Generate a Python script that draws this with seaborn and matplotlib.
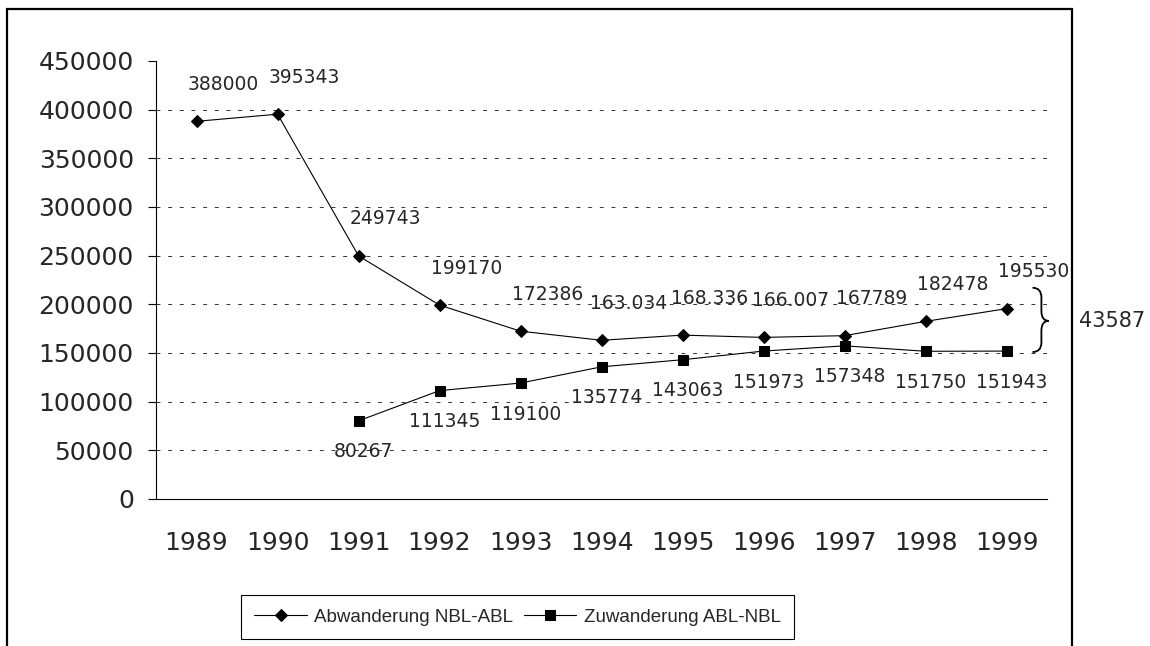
import numpy as np
import pandas as pd
import matplotlib
matplotlib.use('Agg')
import matplotlib.pyplot as plt
from matplotlib.path import Path
from matplotlib.patches import PathPatch, Rectangle
import seaborn as sns

years = ['1989', '1990', '1991', '1992', '1993', '1994', '1995', '1996', '1997', '1998', '1999']
abwanderung = [388000, 395343, 249743, 199170, 172386, 163034, 168336, 166007, 167789, 182478, 195530]
abw_labels = ['388000', '395343', '249743', '199170', '172386', '163.034', '168.336', '166.007', '167789', '182478', '195530']
zuwanderung = [np.nan, np.nan, 80267, 111345, 119100, 135774, 143063, 151973, 157348, 151750, 151943]
zuw_labels = ['', '', '80267', '111345', '119100', '135774', '143063', '151973', '157348', '151750', '151943']
name_abw = 'Abwanderung NBL-ABL'
name_zuw = 'Zuwanderung ABL-NBL'

sns.set_style('white')
plt.rcParams['font.family'] = ['DejaVu Sans']

df = pd.DataFrame({'pos': np.arange(len(years)), 'abw': abwanderung, 'zuw': zuwanderung})

fig = plt.figure(figsize=(11.5, 6.46), dpi=100)
ax = fig.add_axes([0.1357, 0.2276, 0.7748, 0.678])

sns.lineplot(data=df, x='pos', y='abw', marker='D', markersize=6.5, color='black',
             linewidth=0.8, markeredgecolor='black', ax=ax, label=name_abw)
sns.lineplot(data=df.dropna(), x='pos', y='zuw', marker='s', markersize=7.5, color='black',
             linewidth=0.8, markeredgecolor='black', ax=ax, label=name_zuw)

for i, v in enumerate(abwanderung):
    ax.annotate(abw_labels[i], (i, v), xytext=(27, 37), textcoords='offset pixels',
                ha='center', va='center', fontsize=13.5)
for i, v in enumerate(zuwanderung):
    if zuw_labels[i]:
        ax.annotate(zuw_labels[i], (i, v), xytext=(5, -31), textcoords='offset pixels',
                    ha='center', va='center', fontsize=13.5)

ax.set_xlim(-0.5, len(years) - 0.5)
ax.set_ylim(0, 450000)
ax.set_yticks(np.arange(0, 450001, 50000))
ax.set_yticklabels([str(int(t)) for t in np.arange(0, 450001, 50000)], fontsize=18)
ax.set_xticks(np.arange(len(years)))
ax.set_xticklabels(years, fontsize=18)
ax.set_xticks(np.arange(len(years) + 1) - 0.5, minor=True)
ax.tick_params(axis='x', which='major', length=0, pad=23)
ax.tick_params(axis='x', which='minor', length=6, width=0.8, direction='out', color='black')
ax.tick_params(axis='y', length=6, width=0.8, direction='out', color='black', pad=10, left=True)
ax.set_xlabel('')
ax.set_ylabel('')

for s in ['top', 'right']:
    ax.spines[s].set_visible(False)
for s in ['left', 'bottom']:
    ax.spines[s].set_color('black')
    ax.spines[s].set_linewidth(0.8)

ax.yaxis.grid(True, linestyle=(0, (4, 8)), color='#333333', linewidth=0.7)
ax.xaxis.grid(False)
ax.set_axisbelow(True)
ax.get_ygridlines()[-1].set_visible(False)

# brace between the last two values
top = abwanderung[-1] + 21500
bot = zuwanderung[-1] - 1000
mid = (top + bot) / 2 - 1000
x0, xm, x1 = 10.32, 10.43, 10.52
r = 10000
verts = [(x0, top), (xm, top), (xm, top - r), (xm, mid + r), (xm, mid), (x1, mid),
         (xm, mid), (xm, mid - r), (xm, bot + r), (xm, bot), (x0, bot)]
codes = [Path.MOVETO, Path.CURVE3, Path.CURVE3, Path.LINETO, Path.CURVE3, Path.CURVE3,
         Path.CURVE3, Path.CURVE3, Path.LINETO, Path.CURVE3, Path.CURVE3]
ax.add_patch(PathPatch(Path(verts, codes), fill=False, lw=1.3, edgecolor='black', clip_on=False))
ax.annotate(str(abwanderung[-1] - int(zuwanderung[-1])), (x1, mid), xytext=(30, 0),
            textcoords='offset pixels', ha='left', va='center', fontsize=15,
            annotation_clip=False)

ax.legend(loc='center', bbox_to_anchor=(0.450, 0.0449), bbox_transform=fig.transFigure,
          ncol=2, frameon=True, fancybox=False, framealpha=1, edgecolor='black',
          prop={'family': 'Liberation Sans', 'size': 13.5}, handlelength=2.8, handletextpad=0.4,
          columnspacing=0.55, borderpad=0.7, borderaxespad=0)
ax.get_legend().get_frame().set_linewidth(0.8)

fig.add_artist(Rectangle((7 / 1150, -0.1), (1072 - 7) / 1150, 1.1 - 9 / 646,
                         transform=fig.transFigure, fill=False, edgecolor='black', lw=1.6))

fig.savefig('out.png', dpi=100)
